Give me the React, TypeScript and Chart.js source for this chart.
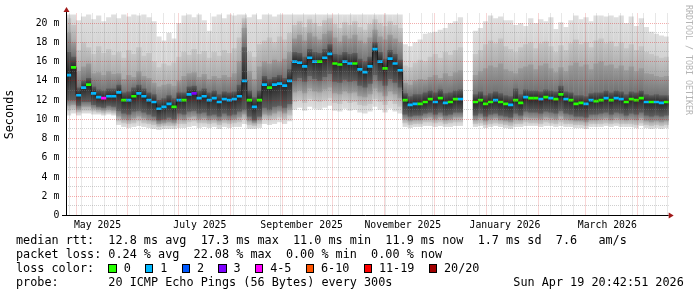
import React, { useEffect, useRef } from 'react';
import { Chart, registerables } from 'chart.js';

Chart.register(...registerables);

const FONT_FAMILY = "'DejaVu Sans Mono', monospace";

// ---- time base ----
const EPOCH = '2025-05-01T00:00:00Z';
const AXIS_START = '2025-04-25T00:00:00Z';
const AXIS_END = '2026-04-19T20:42:51Z';
const BIN_START = '2025-04-25T00:00:00Z';
const BIN_DAYS = 3;

const MONTH_LINES = [
  '2025-05-01T00:00:00Z', '2025-06-01T00:00:00Z', '2025-07-01T00:00:00Z', '2025-08-01T00:00:00Z',
  '2025-09-01T00:00:00Z', '2025-10-01T00:00:00Z', '2025-11-01T00:00:00Z', '2025-12-01T00:00:00Z',
  '2026-01-01T00:00:00Z', '2026-02-01T00:00:00Z', '2026-03-01T00:00:00Z', '2026-04-01T00:00:00Z',
];
const FIRST_WEEK_LINE = '2025-04-27T00:00:00Z';
const MONTH_LABELS = ['May 2025', 'July 2025', 'September 2025', 'November 2025', 'January 2026', 'March 2026'];
const MONTH_LABEL_AT = [
  '2025-05-13T19:00:00Z', '2025-07-13T22:00:00Z', '2025-09-12T17:00:00Z',
  '2025-11-12T02:00:00Z', '2026-01-12T02:00:00Z', '2026-03-14T05:00:00Z',
];

const Y_MAX = 21;
const Y_LABEL_VALUES = [0, 2, 4, 6, 8, 10, 12, 14, 16, 18, 20];
const Y_LABELS = ['0', '2 m', '4 m', '6 m', '8 m', '10 m', '12 m', '14 m', '16 m', '18 m', '20 m'];

// ---- data: one value per 3-day bin (ms) ----
const MEDIAN_RTT = [
  14.6, 15.4, 12.5, 13.3, 13.6, 12.7, 12.3, 12.2, 12.4, 12.4,
  12.8, 12.0, 12.0, 12.4, 12.7, 12.4, 12.0, 11.8, 11.1, 11.3,
  11.6, 11.3, 12.0, 12.0, 12.6, 12.7, 12.2, 12.4, 12.0, 12.2,
  11.8, 12.1, 12.0, 12.1, 12.4, 14.0, 12.0, 11.3, 12.0, 13.6,
  13.3, 13.6, 13.7, 13.5, 14.0, 16.0, 15.9, 15.5, 16.4, 16.0,
  16.0, 16.4, 16.8, 15.8, 15.7, 16.0, 15.8, 15.8, 15.2, 14.9,
  15.5, 17.3, 16.0, 15.3, 16.3, 15.8, 15.1, 12.0, 11.5, 11.6,
  11.6, 11.8, 12.1, 11.8, 12.2, 11.7, 11.8, 12.1, 12.1, null,
  null, 11.8, 12.0, 11.6, 11.8, 12.0, 11.8, 11.6, 11.5, 12.0,
  11.7, 12.3, 12.2, 12.2, 12.1, 12.3, 12.2, 12.1, 12.6, 12.1,
  12.0, 11.6, 11.7, 11.6, 12.0, 11.9, 12.0, 12.2, 12.0, 12.2,
  12.1, 11.8, 12.1, 12.0, 12.2, 11.8, 11.8, 11.8, 11.7, 11.8,
];

const LOSS_PINGS = [
  1, 0, 1, 1, 0, 1, 1, 4, 1, 1,
  1, 0, 1, 0, 1, 1, 1, 1, 1, 1,
  1, 0, 1, 0, 1, 3, 1, 1, 1, 1,
  1, 1, 1, 1, 1, 1, 0, 1, 0, 1,
  0, 1, 1, 1, 1, 1, 1, 1, 1, 1,
  0, 1, 1, 0, 0, 1, 1, 0, 1, 1,
  1, 1, 1, 0, 1, 1, 1, 0, 1, 1,
  0, 0, 0, 1, 0, 1, 0, 0, 1, 0,
  0, 0, 0, 0, 0, 1, 0, 0, 1, 0,
  0, 1, 0, 0, 1, 0, 1, 0, 0, 1,
  0, 0, 0, 1, 1, 0, 0, 1, 0, 1,
  1, 0, 0, 0, 0, 1, 0, 1, 1, 0,
];

const SMOKE_MAX = [
  20.9, 20.9, 20.3, 20.7, 20.9, 20.4, 20.8, 20.2, 20.6, 20.9,
  20.5, 20.9, 20.7, 20.9, 20.8, 20.9, 20.6, 20.2, 18.6, 18.2,
  19.0, 18.4, 20.0, 20.8, 20.9, 20.6, 20.9, 20.3, 19.2, 20.7,
  20.9, 20.5, 20.9, 20.8, 20.9, 20.9, 20.6, 20.9, 20.4, 20.9,
  20.9, 20.7, 20.9, 20.9, 20.9, 20.9, 20.9, 20.9, 20.9, 20.9,
  20.9, 20.9, 20.9, 20.9, 20.9, 20.9, 20.9, 20.9, 20.9, 20.9,
  20.9, 20.9, 20.9, 20.9, 20.9, 20.9, 20.9, 17.8, 17.6, 18.0,
  18.3, 18.9, 19.0, 19.1, 19.3, 19.5, 20.0, 20.2, 20.6, null,
  null, 19.2, 19.5, 20.2, 20.8, 20.5, 20.7, 20.3, 20.3, 19.8,
  20.0, 19.7, 20.5, 20.0, 20.4, 20.2, 20.6, 19.4, 20.1, 19.6,
  20.3, 20.8, 20.4, 20.6, 20.2, 20.8, 20.8, 20.7, 20.8, 20.6,
  20.8, 20.0, 20.7, 19.7, 20.5, 19.6, 19.1, 18.9, 18.7, 18.6,
];

const SMOKE_HI2 = [
  20.5, 19.8, 17.2, 18.0, 17.5, 16.8, 17.6, 16.9, 17.3, 16.7,
  17.0, 16.4, 17.2, 16.8, 17.5, 16.6, 16.9, 16.0, 15.4, 15.8,
  15.6, 15.9, 16.5, 17.0, 16.7, 17.3, 16.8, 17.1, 16.4, 17.0,
  16.6, 17.2, 16.9, 17.4, 18.5, 20.5, 17.0, 16.5, 17.8, 18.2,
  18.5, 18.0, 18.6, 18.3, 19.0, 19.8, 20.2, 19.6, 20.4, 20.0,
  19.7, 20.3, 20.5, 19.9, 19.5, 20.1, 19.8, 20.2, 19.6, 19.3,
  19.9, 20.4, 20.0, 19.7, 20.2, 19.8, 19.5, 15.6, 15.4, 15.9,
  16.2, 16.0, 16.5, 16.8, 16.4, 17.0, 16.7, 17.2, 17.5, null,
  null, 16.8, 17.2, 17.8, 18.2, 17.9, 18.4, 17.6, 17.3, 17.0,
  17.5, 17.8, 18.0, 17.4, 17.9, 18.1, 17.6, 17.0, 17.7, 17.2,
  17.9, 18.3, 17.8, 18.0, 17.5, 18.2, 18.4, 17.9, 18.1, 17.6,
  18.0, 17.4, 17.8, 17.2, 17.6, 17.0, 16.8, 16.6, 16.4, 16.5,
];

const SMOKE_HI3 = [
  19.0, 18.0, 15.0, 15.5, 15.8, 14.8, 14.9, 14.6, 15.0, 14.7,
  14.8, 14.2, 14.6, 14.4, 15.0, 14.5, 14.3, 13.8, 13.4, 13.6,
  13.7, 13.5, 14.0, 14.5, 14.8, 14.9, 14.4, 14.7, 14.2, 14.5,
  14.3, 14.6, 14.4, 14.8, 16.0, 19.5, 15.0, 14.2, 15.5, 16.0,
  15.8, 16.2, 16.0, 16.3, 17.0, 18.4, 18.8, 18.2, 19.0, 18.6,
  18.3, 18.9, 19.2, 18.5, 18.1, 18.7, 18.4, 18.8, 18.2, 17.9,
  18.5, 19.3, 18.6, 18.3, 18.8, 18.4, 18.0, 13.8, 13.6, 14.0,
  14.2, 14.1, 14.4, 14.6, 14.3, 14.8, 14.5, 14.9, 15.1, null,
  null, 14.6, 15.0, 15.3, 15.6, 15.4, 15.8, 15.2, 15.0, 14.8,
  15.3, 15.5, 15.7, 15.2, 15.6, 15.8, 15.3, 14.9, 15.4, 15.0,
  15.6, 15.9, 15.5, 15.7, 15.2, 15.8, 16.0, 15.6, 15.7, 15.3,
  15.6, 15.1, 15.5, 15.0, 15.3, 14.8, 14.7, 14.5, 14.4, 14.5,
];

const SMOKE_HI4 = [
  17.0, 16.5, 13.3, 14.0, 14.3, 13.4, 13.1, 13.0, 13.2, 13.2,
  13.6, 12.8, 12.9, 13.3, 13.6, 13.2, 12.8, 12.6, 12.0, 12.2,
  12.5, 12.2, 12.8, 12.8, 13.4, 13.5, 13.0, 13.2, 12.8, 13.0,
  12.6, 12.9, 12.8, 12.9, 13.6, 17.5, 13.0, 12.3, 13.0, 14.5,
  14.2, 14.4, 14.6, 14.3, 15.2, 17.0, 16.9, 16.5, 17.3, 17.0,
  16.9, 17.3, 17.8, 16.8, 16.7, 17.0, 16.8, 16.9, 16.3, 16.0,
  16.5, 18.0, 17.0, 16.3, 17.2, 16.8, 16.2, 12.7, 12.4, 12.6,
  12.6, 12.8, 13.0, 12.8, 13.1, 12.7, 12.8, 13.0, 13.1, null,
  null, 12.6, 12.9, 12.5, 12.7, 12.9, 12.7, 12.5, 12.4, 13.2,
  12.6, 13.1, 13.0, 13.0, 12.9, 13.1, 13.0, 12.9, 13.5, 12.9,
  12.8, 12.5, 12.5, 12.4, 12.7, 12.8, 12.8, 13.0, 12.8, 13.0,
  12.9, 12.6, 12.9, 12.8, 13.0, 12.6, 12.5, 12.6, 12.5, 12.5,
];

const SMOKE_LO4 = [
  12.0, 12.0, 11.4, 11.8, 11.8, 11.5, 11.3, 11.2, 11.4, 11.3,
  10.9, 10.6, 10.5, 10.8, 10.9, 10.7, 10.5, 10.3, 9.9, 10.0,
  10.2, 10.0, 10.6, 10.5, 10.8, 10.9, 10.6, 10.7, 10.4, 10.5,
  10.3, 10.6, 10.4, 10.5, 10.8, 11.0, 10.3, 9.9, 10.3, 11.2,
  11.0, 11.3, 11.4, 11.2, 11.6, 14.0, 14.3, 13.9, 14.5, 14.2,
  14.0, 14.4, 14.7, 13.9, 13.8, 14.1, 13.9, 14.0, 13.5, 13.3,
  13.7, 14.6, 14.0, 13.5, 14.2, 13.8, 13.3, 10.5, 10.3, 10.4,
  10.4, 10.6, 10.7, 10.5, 10.7, 10.4, 10.5, 10.7, 10.7, null,
  null, 10.4, 10.6, 10.3, 10.5, 10.6, 10.4, 10.3, 10.2, 10.6,
  10.4, 10.8, 10.7, 10.7, 10.6, 10.8, 10.7, 10.6, 10.9, 10.6,
  10.5, 10.3, 10.3, 10.2, 10.5, 10.5, 10.6, 10.7, 10.5, 10.7,
  10.6, 10.4, 10.6, 10.5, 10.7, 10.4, 10.3, 10.4, 10.3, 10.4,
];

const SMOKE_LO3 = [
  11.4, 11.5, 11.0, 11.3, 11.3, 11.1, 11.0, 10.9, 11.0, 10.9,
  10.3, 10.0, 9.9, 10.1, 10.3, 10.1, 9.9, 9.8, 9.5, 9.6,
  9.7, 9.6, 10.0, 9.9, 10.2, 10.3, 10.0, 10.1, 9.9, 10.0,
  9.8, 10.0, 9.9, 10.0, 10.2, 10.5, 9.8, 9.6, 9.9, 10.5,
  10.4, 10.6, 10.8, 10.6, 11.0, 12.8, 13.0, 12.7, 13.2, 12.9,
  12.8, 13.1, 13.3, 12.7, 12.6, 12.9, 12.7, 12.8, 12.4, 12.3,
  12.6, 13.2, 12.8, 12.4, 12.9, 12.6, 12.2, 10.0, 9.8, 9.9,
  9.9, 10.1, 10.2, 10.0, 10.2, 9.9, 10.0, 10.2, 10.2, null,
  null, 9.9, 10.1, 9.8, 10.0, 10.1, 9.9, 9.8, 9.7, 10.0,
  9.9, 10.2, 10.1, 10.1, 10.0, 10.2, 10.1, 10.0, 10.3, 10.0,
  9.9, 9.8, 9.8, 9.7, 9.9, 9.9, 10.0, 10.1, 9.9, 10.1,
  10.0, 9.9, 10.0, 9.9, 10.1, 9.8, 9.7, 9.8, 9.7, 9.8,
];

const SMOKE_LO2 = [
  10.9, 11.0, 10.7, 10.9, 10.9, 10.8, 10.7, 10.6, 10.7, 10.6,
  9.8, 9.6, 9.5, 9.6, 9.8, 9.6, 9.5, 9.4, 9.2, 9.3,
  9.3, 9.3, 9.5, 9.5, 9.7, 9.8, 9.6, 9.6, 9.5, 9.6,
  9.4, 9.6, 9.5, 9.6, 9.7, 10.0, 9.4, 9.3, 9.5, 10.0,
  9.9, 10.0, 10.2, 10.0, 10.4, 11.8, 12.0, 11.7, 12.1, 11.9,
  11.8, 12.0, 12.2, 11.7, 11.6, 11.9, 11.7, 11.8, 11.5, 11.4,
  11.6, 12.1, 11.8, 11.5, 11.9, 11.6, 11.3, 9.6, 9.4, 9.5,
  9.5, 9.7, 9.7, 9.6, 9.7, 9.5, 9.6, 9.7, 9.7, null,
  null, 9.5, 9.6, 9.4, 9.5, 9.6, 9.5, 9.4, 9.3, 9.5,
  9.5, 9.7, 9.6, 9.6, 9.5, 9.7, 9.6, 9.5, 9.7, 9.5,
  9.5, 9.4, 9.4, 9.3, 9.5, 9.5, 9.5, 9.6, 9.5, 9.6,
  9.5, 9.5, 9.5, 9.4, 9.6, 9.4, 9.3, 9.4, 9.3, 9.4,
];

const SMOKE_MIN = [
  10.4, 10.6, 10.4, 10.6, 10.6, 10.5, 10.5, 10.4, 10.5, 10.4,
  9.4, 9.2, 9.1, 9.2, 9.3, 9.2, 9.1, 9.0, 8.9, 9.0,
  9.0, 9.0, 9.1, 9.1, 9.2, 9.3, 9.1, 9.2, 9.1, 9.2,
  9.0, 9.2, 9.1, 9.2, 9.2, 9.5, 9.0, 9.0, 9.1, 9.5,
  9.4, 9.5, 9.7, 9.5, 9.8, 11.0, 11.2, 10.9, 11.3, 11.1,
  11.0, 11.2, 11.4, 10.9, 10.8, 11.1, 10.9, 11.0, 10.7, 10.6,
  10.8, 11.3, 11.0, 10.7, 11.1, 10.8, 10.6, 9.2, 9.1, 9.2,
  9.2, 9.3, 9.3, 9.2, 9.3, 9.2, 9.2, 9.3, 9.3, null,
  null, 9.2, 9.3, 9.1, 9.2, 9.3, 9.2, 9.1, 9.0, 9.2,
  9.2, 9.3, 9.3, 9.3, 9.2, 9.3, 9.3, 9.2, 9.3, 9.2,
  9.2, 9.1, 9.1, 9.0, 9.2, 9.2, 9.2, 9.3, 9.2, 9.3,
  9.2, 9.2, 9.2, 9.1, 9.3, 9.1, 9.0, 9.1, 9.0, 9.1,
];

// ---- legend ----
const LOSS_LEGEND_LABELS = ['0', '1', '2', '3', '4-5', '6-10', '11-19', '20/20'];
const LOSS_COLORS = ['#26ff00', '#00b8ff', '#0059ff', '#7e00ff', '#ff00ff', '#ff5500', '#ff0000', '#a10000'];
const LEGEND_RTT = 'median rtt:  12.8 ms avg  17.3 ms max  11.0 ms min  11.9 ms now  1.7 ms sd  7.6   am/s';
const LEGEND_LOSS = 'packet loss: 0.24 % avg  22.08 % max  0.00 % min  0.00 % now';
const LEGEND_LOSS_COLOR = 'loss color:  ';
const LEGEND_PROBE = 'probe:       20 ICMP Echo Pings (56 Bytes) every 300s';
const LEGEND_DATE = 'Sun Apr 19 20:42:51 2026';
const WATERMARK = 'RRDTOOL / TOBI OETIKER';

// ---- styles / layout ----
const CANVAS_W = 697;
const CANVAS_H = 297;
const PLOT_LEFT = 66;
const PLOT_RIGHT = 668.7;
// outer edge colour and inner edge colour of each smoke layer (outermost first)
const SMOKE_EDGE = ['#dfdfdf', '#c6c6c6', '#9c9c9c', '#5e5e5e'];
const SMOKE_INNER = ['#d3d3d3', '#aaaaaa', '#727272', '#262626'];
const MEDIAN_HALF_THICKNESS = 0.14;
const GRID_MAJOR = 'rgba(215,0,0,0.32)';
const GRID_MINOR = 'rgba(128,128,128,0.38)';
const NONE = 'rgba(0,0,0,0)';

const DAY_MS = 86400000;
const toDay = (iso: string) => (Date.parse(iso) - Date.parse(EPOCH)) / DAY_MS;

function lossIndex(n: number) {
  if (n <= 3) return n;
  if (n <= 5) return 4;
  if (n <= 10) return 5;
  if (n <= 19) return 6;
  return 7;
}

function smokeFill(layer: number) {
  return (c: any) => {
    const raw = c.raw;
    const ys = c.chart.scales && c.chart.scales.y;
    if (!raw || !ys) return SMOKE_EDGE[layer];
    const pTop = ys.getPixelForValue(raw.y[1]);
    const pBot = ys.getPixelForValue(raw.y[0]);
    if (!(pBot - pTop > 0.5)) return SMOKE_EDGE[layer];
    const t = (v: number) => Math.min(1, Math.max(0, (ys.getPixelForValue(v) - pTop) / (pBot - pTop)));
    const g = c.chart.ctx.createLinearGradient(0, pTop, 0, pBot);
    g.addColorStop(0, SMOKE_EDGE[layer]);
    g.addColorStop(t(raw.inner[1]), SMOKE_INNER[layer]);
    g.addColorStop(t(raw.inner[0]), SMOKE_INNER[layer]);
    g.addColorStop(1, SMOKE_EDGE[layer]);
    return g;
  };
}

const rrdAxes = {
  id: 'rrdAxes',
  afterDraw(chart: any) {
    const { ctx, chartArea } = chart;
    const x0 = Math.round(chartArea.left) + 0.5;
    const y0 = Math.round(chartArea.bottom) - 0.5;
    ctx.save();
    ctx.strokeStyle = '#000';
    ctx.lineWidth = 1;
    ctx.beginPath();
    ctx.moveTo(x0 - 4.5, y0);
    ctx.lineTo(chartArea.right, y0);
    ctx.moveTo(x0, y0 + 0.5);
    ctx.lineTo(x0, chartArea.top - 1.5);
    ctx.stroke();
    ctx.fillStyle = '#a01818';
    ctx.beginPath();
    ctx.moveTo(chartArea.right + 5, y0);
    ctx.lineTo(chartArea.right, y0 - 3);
    ctx.lineTo(chartArea.right, y0 + 3);
    ctx.closePath();
    ctx.fill();
    const ty = chartArea.top - 1.5;
    ctx.beginPath();
    ctx.moveTo(x0, ty - 5);
    ctx.lineTo(x0 - 3, ty);
    ctx.lineTo(x0 + 3, ty);
    ctx.closePath();
    ctx.fill();
    ctx.restore();
  },
};

function buildXTicks(xMin: number, xMax: number) {
  const ticks: any[] = [];
  const months = MONTH_LINES.map(toDay);
  months.forEach((v) => ticks.push({ value: v, kind: 'month', lbl: '' }));
  for (let d = toDay(FIRST_WEEK_LINE); d <= xMax; d += 7) {
    if (d < xMin) continue;
    if (months.some((m) => Math.abs(m - d) < 0.5)) continue;
    ticks.push({ value: d, kind: 'week', lbl: '' });
  }
  MONTH_LABEL_AT.forEach((iso, i) => ticks.push({ value: toDay(iso), kind: 'label', lbl: MONTH_LABELS[i] }));
  ticks.sort((a, b) => a.value - b.value);
  return ticks;
}

export default function App() {
  const canvasRef = useRef<HTMLCanvasElement | null>(null);

  useEffect(() => {
    const canvas = canvasRef.current;
    if (!canvas) return;
    const xMin = toDay(AXIS_START);
    const xMax = toDay(AXIS_END);
    const binX = MEDIAN_RTT.map((_, k) => toDay(BIN_START) + BIN_DAYS * (k + 0.5));
    const binPx = (BIN_DAYS * (PLOT_RIGHT - PLOT_LEFT)) / (xMax - xMin);

    const layers = [
      [SMOKE_MIN, SMOKE_MAX],
      [SMOKE_LO2, SMOKE_HI2],
      [SMOKE_LO3, SMOKE_HI3],
      [SMOKE_LO4, SMOKE_HI4],
    ];
    const band = (li: number) => {
      const [lo, hi] = layers[li];
      const out: any[] = [];
      binX.forEach((x, k) => {
        const a = lo[k];
        const b = hi[k];
        if (a == null || b == null) return;
        const inner =
          li < layers.length - 1
            ? [layers[li + 1][0][k], layers[li + 1][1][k]]
            : [MEDIAN_RTT[k], MEDIAN_RTT[k]];
        out.push({ x, y: [a, b], k, inner });
      });
      return out;
    };
    const medianBars: any[] = [];
    binX.forEach((x, k) => {
      const m = MEDIAN_RTT[k];
      if (m != null) medianBars.push({ x, y: [m - MEDIAN_HALF_THICKNESS, m + MEDIAN_HALF_THICKNESS], k });
    });
    const medianLine = binX.map((x, k) => ({ x, y: MEDIAN_RTT[k] }));

    const barCommon = {
      type: 'bar',
      grouped: false,
      barThickness: binPx + 0.2,
      borderWidth: 0,
      inflateAmount: 0,
    };

    const xTicks = buildXTicks(xMin, xMax);
    const tickFont = { family: FONT_FAMILY, size: 9.8 };

    const chart = new Chart(canvas, {
      type: 'bar',
      data: {
        datasets: [
          {
            ...barCommon,
            label: 'median',
            data: medianBars,
            backgroundColor: (c: any) => (c.raw ? LOSS_COLORS[lossIndex(LOSS_PINGS[c.raw.k])] : '#000'),
            order: 0,
          },
          {
            type: 'line',
            label: 'median steps',
            data: medianLine,
            borderColor: '#1c1c1c',
            borderWidth: 1,
            stepped: 'middle',
            pointRadius: 0,
            spanGaps: false,
            order: 1,
          },
          { ...barCommon, label: 'smoke 4', data: band(3), backgroundColor: smokeFill(3), order: 2 },
          { ...barCommon, label: 'smoke 3', data: band(2), backgroundColor: smokeFill(2), order: 3 },
          { ...barCommon, label: 'smoke 2', data: band(1), backgroundColor: smokeFill(1), order: 4 },
          { ...barCommon, label: 'smoke 1', data: band(0), backgroundColor: smokeFill(0), order: 5 },
        ] as any,
      },
      options: {
        responsive: false,
        maintainAspectRatio: false,
        devicePixelRatio: 1,
        animation: false,
        events: [],
        layout: {
          padding: { left: 0, right: CANVAS_W - PLOT_RIGHT, top: 13.5, bottom: 61.5 },
        },
        plugins: { legend: { display: false }, tooltip: { enabled: false } },
        scales: {
          x: {
            type: 'linear',
            min: xMin,
            max: xMax,
            offset: false,
            afterBuildTicks: (scale: any) => {
              scale.ticks = xTicks.map((t) => ({ ...t }));
            },
            afterFit: (scale: any) => {
              scale.height = 20;
            },
            ticks: {
              autoSkip: false,
              maxRotation: 0,
              minRotation: 0,
              padding: 4,
              color: '#000',
              font: tickFont,
              callback: (_v: any, i: number, ticks: any[]) => (ticks[i] && ticks[i].lbl) || '',
            },
            grid: {
              z: 1,
              offset: false,
              drawTicks: false,
              lineWidth: 1,
              color: (c: any) => {
                const kind = c.tick && c.tick.kind;
                if (kind === 'month') return GRID_MAJOR;
                if (kind === 'week') return GRID_MINOR;
                return NONE;
              },
            },
            border: { display: false, dash: [1, 1] },
          },
          y: {
            type: 'linear',
            min: 0,
            max: Y_MAX,
            afterBuildTicks: (scale: any) => {
              const t: any[] = [];
              for (let v = 0; v <= Y_MAX; v++) t.push({ value: v });
              scale.ticks = t;
            },
            afterFit: (scale: any) => {
              scale.width = PLOT_LEFT;
            },
            ticks: {
              autoSkip: false,
              padding: 6.7,
              color: '#000',
              font: tickFont,
              callback: (v: any) => {
                const i = Y_LABEL_VALUES.indexOf(Number(v));
                return i >= 0 ? Y_LABELS[i] : '';
              },
            },
            grid: {
              z: 1,
              drawTicks: false,
              lineWidth: 1,
              color: (c: any) => {
                const v = c.tick ? c.tick.value : -1;
                if (v <= 0 || v >= Y_MAX) return NONE;
                return Y_LABEL_VALUES.includes(v) ? GRID_MAJOR : GRID_MINOR;
              },
            },
            border: { display: false, dash: [1, 1] },
            title: {
              display: true,
              text: 'Seconds',
              color: '#000',
              font: { family: FONT_FAMILY, size: 11.8 },
              padding: { top: 3, bottom: 0 },
            },
          },
        },
      } as any,
      plugins: [rrdAxes],
    });
    return () => chart.destroy();
  }, []);

  const mono: React.CSSProperties = {
    fontFamily: FONT_FAMILY,
    fontSize: '11.8px',
    lineHeight: '13.9px',
    whiteSpace: 'pre',
    color: '#000',
  };

  return (
    <div style={{ position: 'fixed', left: 0, top: 0, width: CANVAS_W, height: CANVAS_H, background: '#fff', overflow: 'hidden' }}>
      <canvas
        ref={canvasRef}
        width={CANVAS_W}
        height={CANVAS_H}
        style={{ position: 'absolute', left: 0, top: 0, width: CANVAS_W, height: CANVAS_H }}
      />
      <div
        style={{
          position: 'absolute',
          left: 684,
          top: 5,
          fontFamily: FONT_FAMILY,
          fontSize: '8.3px',
          lineHeight: '9px',
          writingMode: 'vertical-rl',
          whiteSpace: 'pre',
          color: '#b4b4b4',
        }}
      >
        {WATERMARK}
      </div>
      <div style={{ ...mono, position: 'absolute', left: 16, top: 234 }}>
        <div>{LEGEND_RTT}</div>
        <div>{LEGEND_LOSS}</div>
        <div>
          {LEGEND_LOSS_COLOR}
          {LOSS_LEGEND_LABELS.map((lbl, i) => (
            <React.Fragment key={lbl}>
              <span
                style={{
                  display: 'inline-block',
                  width: '8.5px',
                  height: '8.5px',
                  boxSizing: 'border-box',
                  border: '1px solid #000',
                  background: LOSS_COLORS[i],
                  marginRight: '6.8px',
                  verticalAlign: '-0.7px',
                }}
              />
              {lbl}
              {i < LOSS_LEGEND_LABELS.length - 1 ? '  ' : ''}
            </React.Fragment>
          ))}
        </div>
        <div>{LEGEND_PROBE}</div>
      </div>
      <div style={{ ...mono, position: 'absolute', left: 513.3, top: 275.7 }}>{LEGEND_DATE}</div>
    </div>
  );
}
